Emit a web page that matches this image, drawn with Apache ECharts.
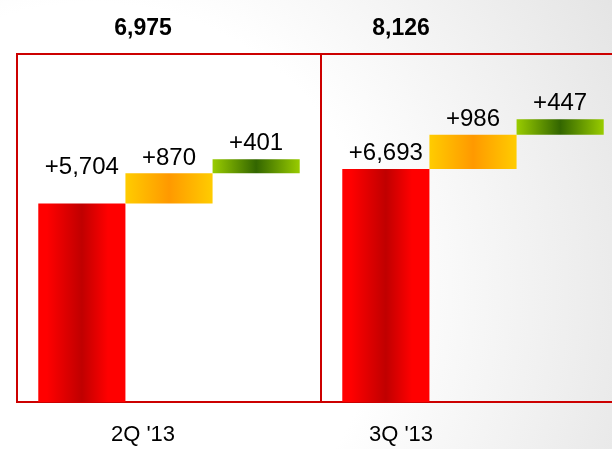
<!DOCTYPE html>
<html>
<head>
<meta charset="utf-8">
<script src="https://cdn.jsdelivr.net/npm/echarts@6/dist/echarts.min.js"></script>
<style>html,body{margin:0;padding:0;background:#fff}#c{width:612px;height:449px}</style>
</head>
<body>
<div id="c"></div>
<script>
var categories = ["2Q '13", "3Q '13"];
var baseValues = [5704, 6693];
var orangeValues = [870, 986];
var greenValues = [401, 447];
var totals = [6975, 8126];

var FONT = '"Liberation Sans", Arial, sans-serif';
function fmt(v) { return '+' + v.toLocaleString('en-US'); }
function hGrad(stops) {
  return { type: 'linear', x: 0, y: 0, x2: 1, y2: 0, colorStops: stops.map(function (s) { return { offset: s[0], color: s[1] }; }) };
}
var redGrad = hGrad([[0, '#ff0000'], [0.1, '#ff0000'], [0.5, '#c00000'], [0.8, '#ff0000'], [1, '#ff0000']]);
var orangeGrad = hGrad([[0, '#ffcc00'], [0.5, '#ff9900'], [1, '#ffcc00']]);
var greenGrad = hGrad([[0, '#99cc00'], [0.5, '#336600'], [1, '#99cc00']]);

var orangeBase = baseValues.slice();
var greenBase = baseValues.map(function (v, i) { return v + orangeValues[i]; });

function lbl(d) {
  return { show: true, position: 'top', color: '#000', fontFamily: FONT, fontSize: 24, distance: d,
    formatter: function (p) { return fmt(p.value); } };
}
var redLabelDist = [24, 4];

var chart = echarts.init(document.getElementById('c'));
chart.setOption({
  animation: false,
  backgroundColor: {
    type: 'radial', x: 0.15, y: 0.65, r: 1.34,
    colorStops: [{ offset: 0, color: '#ffffff' }, { offset: 0.48, color: '#ffffff' }, { offset: 1, color: '#e4e4e4' }]
  },
  grid: [
    { left: 17, top: 54, width: 608, height: 348, show: true, borderColor: '#cc0000', borderWidth: 2, backgroundColor: 'transparent', outerBoundsMode: 'none', containLabel: false },
    { left: 14, top: 54, width: 516, height: 348, show: false, outerBoundsMode: 'none', containLabel: false }
  ],
  xAxis: [
    { type: 'category', gridIndex: 0, data: categories, axisLabel: { show: false }, axisTick: { show: false }, axisLine: { show: false },
      splitLine: { show: true, interval: 0, lineStyle: { color: '#cc0000', width: 2 } } },
    { type: 'category', gridIndex: 1, position: 'bottom', data: categories, axisTick: { show: false }, axisLine: { show: false },
      axisLabel: { color: '#000', fontFamily: FONT, fontSize: 22, margin: 22 } },
    { type: 'category', gridIndex: 1, position: 'top', data: totals.map(function (v) { return v.toLocaleString('en-US'); }), axisTick: { show: false }, axisLine: { show: false },
      axisLabel: { color: '#000', fontFamily: FONT, fontSize: 23, fontWeight: 'bold', margin: 14 } }
  ],
  yAxis: [
    { type: 'value', gridIndex: 0, min: 0, max: 10000, show: false, splitLine: { show: false } },
    { type: 'value', gridIndex: 1, min: 0, max: 10000, show: false, splitLine: { show: false } }
  ],
  series: [
    { type: 'bar', name: 'base', stack: 'a', barGap: '0%', barCategoryGap: '14%',
      data: baseValues.map(function (v, i) { return { value: v, label: { distance: redLabelDist[i] } }; }),
      itemStyle: { color: redGrad }, label: lbl(4) },
    { type: 'bar', name: 'ob', stack: 'b', barGap: '0%', barCategoryGap: '14%', data: orangeBase,
      itemStyle: { color: 'transparent' }, silent: true },
    { type: 'bar', name: 'orange', stack: 'b', barGap: '0%', barCategoryGap: '14%', data: orangeValues,
      itemStyle: { color: orangeGrad }, label: lbl(3) },
    { type: 'bar', name: 'gb', stack: 'c', barGap: '0%', barCategoryGap: '14%', data: greenBase,
      itemStyle: { color: 'transparent' }, silent: true },
    { type: 'bar', name: 'green', stack: 'c', barGap: '0%', barCategoryGap: '14%', data: greenValues,
      itemStyle: { color: greenGrad }, label: lbl(4) }
  ]
});
</script>
</body>
</html>
